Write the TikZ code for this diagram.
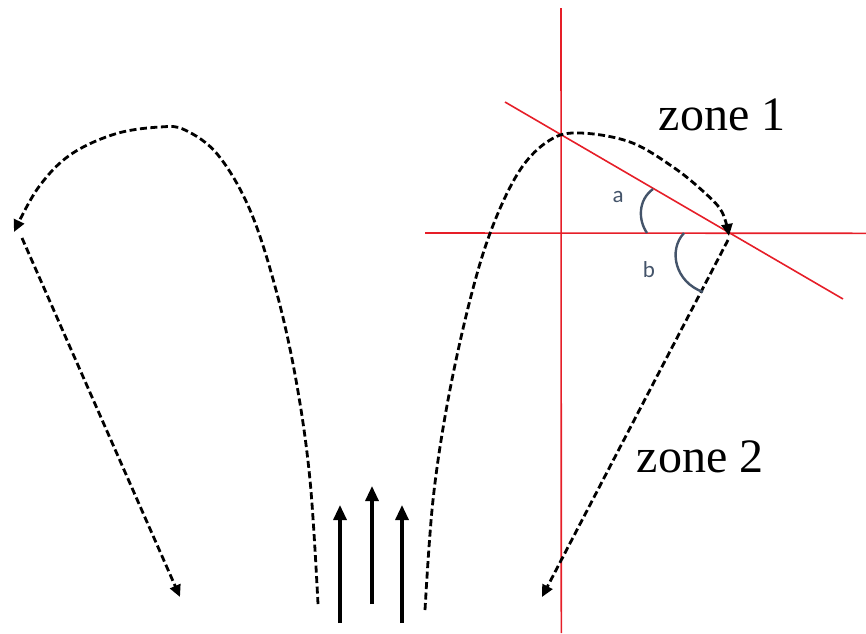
\documentclass[tikz,border=0pt]{standalone}
\usepackage{fontspec}
\setmainfont{Liberation Serif}
\newfontfamily\labfont{Carlito}
\usetikzlibrary{arrows.meta}
\definecolor{redline}{RGB}{230,30,40}
\definecolor{slate}{HTML}{44546A}
\begin{document}
\begin{tikzpicture}[x=1pt,y=-1pt,
  flow/.style={line width=2.8pt,dash pattern=on 7pt off 3.5pt,-{Triangle[length=12pt,width=11pt]}},
  guide/.style={draw=redline,line width=1.6pt},
  jet/.style={line width=3.2pt,-{Triangle[length=15pt,width=13pt]}},
  anglearc/.style={slate,line width=2.4pt},
  zonelabel/.style={font=\fontsize{48}{48}\selectfont},
  anglabel/.style={font=\labfont\fontsize{23}{23}\selectfont,text=slate}]
\useasboundingbox (0,0) rectangle (866,633);
% red guide lines
\coordinate (vtop) at (561,8);
\coordinate (vbot) at (561.3,633);
\coordinate (hl) at (425,233);
\coordinate (hr) at (866,233.3);
\coordinate (dl) at (505,102);
\coordinate (dr) at (843,299);
\draw[guide] (vtop) -- (vbot);
\draw[guide] (hl) -- (hr);
\draw[guide] (dl) -- (dr);
% left vortex
\coordinate (L2) at (22,238);
\coordinate (L3) at (180,597);
\draw[flow] plot[smooth,tension=0.6] coordinates {(318,604) (310,480) (296,380) (276,290) (250,210) (218,155) (185,130) (160,127) (115,134) (70,155) (38,188) (14,232)};
\draw[flow] (L2) -- (L3);
% right vortex
\coordinate (R3) at (728,240);
\coordinate (R4) at (542,597);
\draw[flow] plot[smooth,tension=0.6] coordinates {(425,610) (433,500) (448,400) (470,300) (492,228) (520,170) (550,140) (580,133) (630,142) (673,167) (705,193) (722,212) (729,236)};
\draw[flow] (R3) -- (R4);
% jets
\coordinate (j1b) at (340,623);
\coordinate (j1t) at (340,505);
\coordinate (j2b) at (372,604);
\coordinate (j2t) at (372,486);
\coordinate (j3b) at (402,623);
\coordinate (j3t) at (402,505);
\draw[jet] (j1b) -- (j1t);
\draw[jet] (j2b) -- (j2t);
\draw[jet] (j3b) -- (j3t);
% angle arcs
\draw[anglearc] (653,189) .. controls (638,200) and (638,220) .. (647,233);
\draw[anglearc] (684,233) .. controls (668,250) and (675,282) .. (703,292);
\node[anglabel] (a) at (618,197) {a};
\node[anglabel] (b) at (649,270) {b};
% zone labels
\node[zonelabel] (z1) at (722,115) {zone 1};
\node[zonelabel] (z2) at (700,457) {zone 2};
\end{tikzpicture}
\end{document}
